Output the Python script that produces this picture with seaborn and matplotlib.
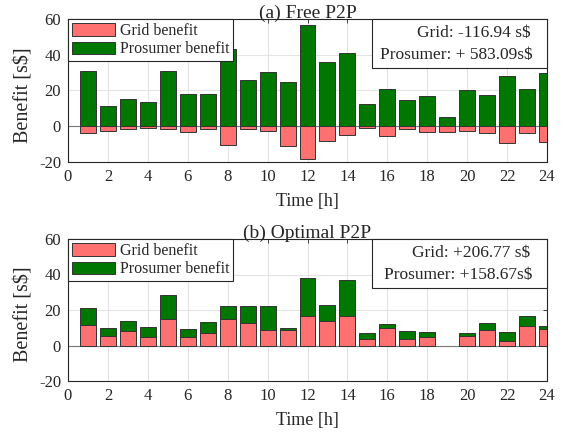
import numpy as np
import pandas as pd
import matplotlib
matplotlib.use("Agg")
import matplotlib.pyplot as plt
import seaborn as sns
from matplotlib.patches import Patch, Rectangle

hours = list(range(1, 25))

# (a) Free P2P
free_grid = [-3.7, -2.8, -1.7, -1.1, -1.7, -3.2, -1.3, -10.6, -1.5, -2.4, -11.2, -18.1,
             -8.2, -4.8, -0.9, -5.4, -1.5, -3.2, -3.0, -2.6, -3.7, -9.3, -3.5, -8.9]
free_pros = [31.1, 11.5, 15.5, 13.8, 30.7, 18.2, 18.1, 43.4, 26.1, 30.5, 24.8, 56.4,
             35.9, 40.8, 12.7, 20.9, 14.5, 17.1, 5.0, 20.5, 17.3, 27.9, 21.0, 30.0]

# (b) Optimal P2P
opt_grid = [11.3, 5.3, 8.3, 4.7, 15.2, 4.7, 7.1, 14.8, 12.6, 8.6, 8.6, 16.7,
            13.7, 16.5, 3.6, 9.8, 3.6, 4.7, 0.0, 5.6, 8.6, 2.6, 10.9, 9.2]
opt_pros = [9.7, 4.6, 5.4, 5.6, 13.3, 4.5, 6.2, 7.5, 9.5, 13.7, 1.5, 21.4,
            9.0, 20.5, 3.3, 2.4, 4.7, 3.0, 0.0, 1.5, 4.3, 5.1, 5.6, 1.7]

titles = ["(a) Free P2P", "(b) Optimal P2P"]
summaries = [["Grid: -116.94 s$", "Prosumer: + 583.09s$"],
             ["Grid: +206.77 s$", "Prosumer: +158.67s$"]]
legend_labels = ["Grid benefit", "Prosumer benefit"]
xticks = list(range(0, 25, 2))
yticks = [-20, 0, 20, 40, 60]

RED = "#FF7070"
GREEN = "#007800"
EDGE = "#333333"
INK = "#262626"

sns.set_theme(style="whitegrid")
plt.rcParams["font.family"] = ["Liberation Serif", "DejaVu Serif"]
plt.rcParams["font.size"] = 11

fig = plt.figure(figsize=(5.65, 4.38), dpi=100)
W, H = 565, 438
def ax_rect(l, t, r, b):
    return [l / W, 1 - b / H, (r - l) / W, (b - t) / H]

ax1 = fig.add_axes(ax_rect(68, 19, 547, 162))
ax2 = fig.add_axes(ax_rect(68, 239, 547, 381))

df_free = pd.DataFrame({"hour": hours, "grid": free_grid, "pros": free_pros})
df_opt = pd.DataFrame({"hour": hours, "grid": opt_grid, "pros": opt_pros})
df_opt["total"] = df_opt["grid"] + df_opt["pros"]
# zero-height bars are not drawn
df_free = df_free.replace(0, np.nan)
df_opt = df_opt.replace(0, np.nan)

bar_kw = dict(native_scale=True, width=0.8, linewidth=0.7, edgecolor=EDGE,
              saturation=1, errorbar=None, zorder=3)

# Top: prosumer up, grid down
sns.barplot(data=df_free, x="hour", y="pros", color=GREEN, ax=ax1, **bar_kw)
sns.barplot(data=df_free, x="hour", y="grid", color=RED, ax=ax1, **bar_kw)

# Bottom: stacked (total green, grid red on top)
sns.barplot(data=df_opt, x="hour", y="total", color=GREEN, ax=ax2, **bar_kw)
sns.barplot(data=df_opt, x="hour", y="grid", color=RED, ax=ax2, **bar_kw)

for i, ax in enumerate([ax1, ax2]):
    ax.set_xlim(0, 24)
    ax.set_ylim(-20, 60)
    ax.set_xticks(xticks)
    ax.set_yticks(yticks)
    ax.set_xticklabels([str(t) for t in xticks])
    ax.set_yticklabels([str(t) for t in yticks])
    ax.set_xlabel("Time [h]", fontsize=13, labelpad=6, color=INK)
    ax.set_ylabel("Benefit [s$]", fontsize=14.5, color=INK)
    ax.yaxis.set_label_coords(-0.073, 0.47)
    ax.set_title(titles[i], fontsize=14, pad=1, color=INK)
    ax.grid(True, color="#E3E3E3", linewidth=0.8, zorder=0)
    ax.set_axisbelow(True)
    ax.axhline(0, color="#7A7A7A", linewidth=0.8, zorder=2)
    for s in ax.spines.values():
        s.set_color(INK)
        s.set_linewidth(0.8)
    ax.tick_params(direction="in", length=3, width=0.6, colors=INK,
                   labelsize=12, top=True, right=True, pad=5)
    ax.set_facecolor("white")

    handles = [Patch(facecolor=RED, edgecolor=EDGE, linewidth=0.7),
               Patch(facecolor=GREEN, edgecolor=EDGE, linewidth=0.7)]
    leg = ax.legend(handles, legend_labels, loc="upper left", fontsize=11.5,
                    frameon=True, fancybox=False, framealpha=1, edgecolor=INK,
                    borderaxespad=0, handlelength=2.7, handleheight=0.8,
                    handletextpad=0.3, borderpad=0.25, labelspacing=0.15)
    leg.get_frame().set_linewidth(0.8)
    leg.set_zorder(10)
    for t in leg.get_texts():
        t.set_color(INK)

    # summary box on the right
    bx0 = (372 - 68) / (547 - 68)
    bh = (68 - 19) / (162 - 19)
    rect = Rectangle((bx0, 1 - bh), 1 - bx0, bh, transform=ax.transAxes,
                     facecolor="white", edgecolor=INK, linewidth=0.8,
                     zorder=10, clip_on=False)
    ax.add_patch(rect)
    ax.text(0.965, 1 - bh * 0.29, summaries[i][0], transform=ax.transAxes,
            ha="right", va="center", fontsize=12.5, zorder=11, color=INK)
    ax.text(0.97, 1 - bh * 0.73, summaries[i][1], transform=ax.transAxes,
            ha="right", va="center", fontsize=12.5, zorder=11, color=INK)

fig.savefig("out.png", dpi=100, facecolor="white")
